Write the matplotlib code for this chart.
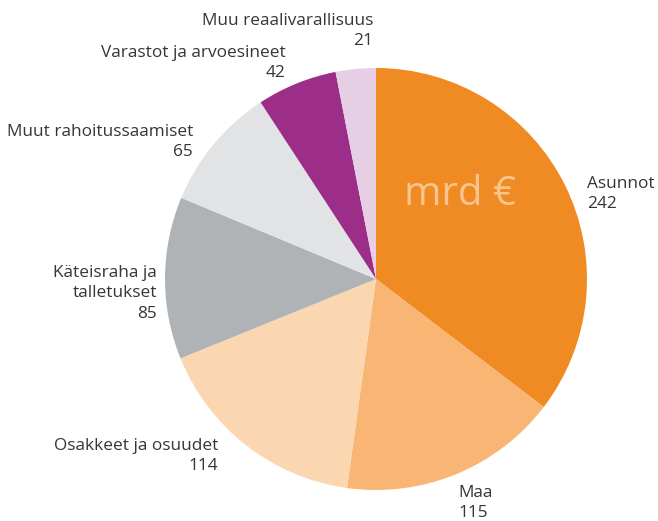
import matplotlib.pyplot as plt

# household wealth, billions of euro
labels = ["Asunnot", "Maa", "Osakkeet ja osuudet", "Käteisraha ja\ntalletukset",
          "Muut rahoitussaamiset", "Varastot ja arvoesineet", "Muu reaalivarallisuus"]
values = [242, 115, 114, 85, 65, 42, 21]
colors = ["#F08B24", "#F8B574", "#FBD7B1", "#B0B3B6", "#E2E3E4", "#9C2D88", "#E6CEE4"]

W, H = 658, 521
fig = plt.figure(figsize=(W / 100, H / 100), dpi=100)
ax = fig.add_axes([0, 0, 1, 1])
ax.set_xlim(0, W)
ax.set_ylim(0, H)
ax.set_aspect("equal")

cx, cy, r = 376, H - 279, 211
ax.pie(values, colors=colors, startangle=90, counterclock=False,
       center=(cx, cy), radius=r, frame=True,
       wedgeprops=dict(linewidth=0))
ax.axis("off")

plt.rcParams["font.family"] = ["Open Sans", "DejaVu Sans"]
tc = "#363636"
fs = 12.4
pitch = 20.3

# label anchor in pixel coords (x, first baseline, align)
pos = [(587, 188, "left"), (458, 497, "left"), (218, 450, "right"),
       (157, 277, "right"), (193, 136, "right"), (286, 57, "right"),
       (373, 25, "right")]
for lab, v, (x, y, ha) in zip(labels, values, pos):
    lines = lab.split("\n") + [str(v)]
    for i, line in enumerate(lines):
        ax.text(x, H - (y + i * pitch), line, ha=ha, va="baseline",
                fontsize=fs, color=tc)

ax.text(460, H - 205, "mrd €", ha="center", va="baseline", fontsize=29,
        color="#F9C48E")

fig.savefig("out.png", dpi=100)
